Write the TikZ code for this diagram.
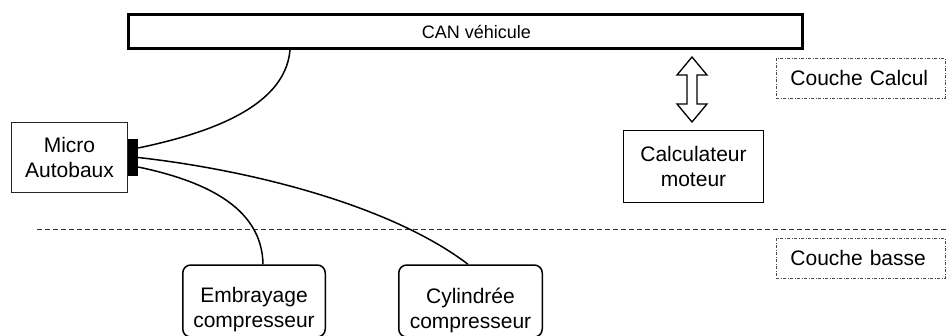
\documentclass[tikz,border=0pt]{standalone}
\usepackage{fontspec}
\setmainfont{Liberation Sans}
\usetikzlibrary{calc}
\begin{document}
\begin{tikzpicture}[x=1pt,y=-1pt,
  txt/.style={font=\fontsize{21}{25}\selectfont, align=center, inner sep=0pt},
  plainbox/.style={draw=black, line width=1pt, inner sep=0pt},
  rbox/.style={draw=black, line width=1.5pt, rounded corners=8pt, inner sep=0pt},
  layerbox/.style={draw=black!70, line width=0.9pt, dash pattern=on 3pt off 1.5pt on 1pt off 1.5pt,
     inner ysep=0pt, inner xsep=14pt, anchor=west, text width=141pt, align=left,
     minimum height=40pt, font=\fontsize{21}{25}\selectfont},
  wire/.style={line width=1.5pt, black},
  sep/.style={line width=1pt, black!80, dash pattern=on 5pt off 3pt}]
\useasboundingbox (0,0) rectangle (950,335);

% CAN bus
\node[draw=black, line width=3pt, minimum width=674pt, minimum height=34pt, inner sep=0pt,
      font=\fontsize{18}{22}\selectfont] (can) at (465.5,31.5) {\hspace*{22pt}CAN véhicule};

% Micro Autobaux
\node[plainbox, draw=black!85, minimum width=116pt, minimum height=70pt, txt] (micro) at (69.5,157.5) {Micro\\Autobaux};
\node[fill=black, minimum width=10pt, minimum height=37pt, inner sep=0pt] (conn) at (133,157.5) {};

% Calculateur moteur
\node[plainbox, minimum width=140pt, minimum height=72pt, txt] (calc) at (693.5,166.5) {Calculateur\\moteur};

% Lower boxes
\node[rbox, minimum width=142.5pt, minimum height=72pt] (emb) at (254,301) {};
\node[txt] (embtxt) at (254,310) {Embrayage\\compresseur};
\node[rbox, minimum width=143.5pt, minimum height=72pt] (cyl) at (470.5,301) {};
\node[txt] (cyltxt) at (470.5,310) {Cylindrée\\compresseur};

% Layer labels
\node[layerbox] (lcalc) at (776,78) {Couche Calcul};
\node[layerbox] (lbasse) at (776,258) {Couche basse};

% Separation line
\coordinate (sepL) at (37,229);
\coordinate (sepR) at (946,229);
\draw[sep] (sepL) -- (sepR);

% Wires
\draw[wire] ([yshift=9.5pt]conn.east) .. controls (200,135) and (285,110) .. ([xshift=-175.5pt]can.south);
\draw[wire] (conn.east) .. controls (250,170) and (390,205) .. ([xshift=-2.5pt]cyl.north);
\draw[wire] ([yshift=-9.5pt]conn.east) .. controls (200,180) and (262,205) .. ([xshift=9pt]emb.north);

% Double arrow between CAN and Calculateur
\coordinate (atop) at (692,57);
\coordinate (abot) at (692,122);
\draw[line width=1.3pt, line join=miter, fill=white]
  (atop) -- ++(15,18) -- ++(-10,0) -- ($(abot)+(5,-18)$) -- ++(10,0) -- (abot)
  -- ++(-15,-18) -- ++(10,0) -- ($(atop)+(-5,18)$) -- ++(-10,0) -- cycle;
\end{tikzpicture}
\end{document}
